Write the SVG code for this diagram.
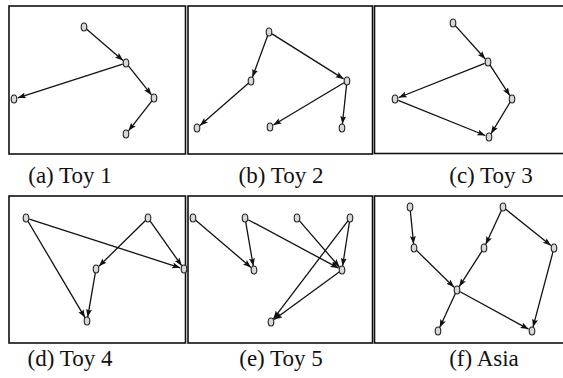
<svg xmlns="http://www.w3.org/2000/svg" width="563" height="378" viewBox="0 0 563 378">
<style>
.frame{fill:none;stroke:#111;stroke-width:1.6}
.node ellipse{fill:#d8d8d8;stroke:#222;stroke-width:1.1}
.edges line{stroke:#111;stroke-width:1.3;marker-end:url(#ah)}
.cap{font-family:"Liberation Serif","Times New Roman",serif;font-size:23px;fill:#111;text-anchor:middle}
</style>
<defs>
<marker id="ah" markerUnits="userSpaceOnUse" markerWidth="9" markerHeight="7" refX="8" refY="3" orient="auto">
<path d="M0,0 L8,3 L0,6 L1.5,3 Z" fill="#111"/>
</marker>
</defs>
<rect width="563" height="378" fill="#fff"/>
<g id="frames">
<rect class="frame" x="9" y="6" width="176.5" height="148"/>
<rect class="frame" x="188" y="6" width="184.5" height="148"/>
<rect class="frame" x="374.5" y="6" width="200" height="147.5"/>
<rect class="frame" x="9" y="196" width="176.5" height="147"/>
<rect class="frame" x="188" y="196" width="184.5" height="147"/>
<rect class="frame" x="374.5" y="196" width="200" height="147"/>
</g>
<g id="connectors" class="edges">
<line x1="86.7" y1="29.3" x2="123" y2="60.4"/>
<line x1="122.7" y1="64.1" x2="17.8" y2="97.8"/>
<line x1="128.2" y1="65.7" x2="151.5" y2="94.9"/>
<line x1="151.9" y1="100.8" x2="128.5" y2="130.8"/>
<line x1="267.8" y1="35.3" x2="252.4" y2="77.2"/>
<line x1="272" y1="33.9" x2="343.6" y2="78.9"/>
<line x1="248.4" y1="83.3" x2="200" y2="125.4"/>
<line x1="344" y1="82.8" x2="273.4" y2="125"/>
<line x1="346.6" y1="84.5" x2="342.4" y2="124"/>
<line x1="455.3" y1="25.6" x2="485.3" y2="59"/>
<line x1="484.7" y1="63.3" x2="398.7" y2="97.5"/>
<line x1="489.9" y1="64.9" x2="509.8" y2="95.6"/>
<line x1="398.2" y1="100.3" x2="485.3" y2="135.5"/>
<line x1="510.2" y1="102" x2="491.1" y2="133.6"/>
<line x1="29.3" y1="219.1" x2="180.2" y2="267.8"/>
<line x1="27.8" y1="221" x2="85" y2="317.6"/>
<line x1="145.5" y1="220.5" x2="98.9" y2="266.2"/>
<line x1="150" y1="220.9" x2="181.7" y2="265.7"/>
<line x1="95.4" y1="272.4" x2="87.7" y2="317.1"/>
<line x1="195.7" y1="220.3" x2="251" y2="267.4"/>
<line x1="245.6" y1="221.4" x2="253.3" y2="266.1"/>
<line x1="248.1" y1="219.7" x2="338.5" y2="268.1"/>
<line x1="299.3" y1="220.6" x2="339.4" y2="267"/>
<line x1="349.5" y1="221.5" x2="342.6" y2="266"/>
<line x1="347.9" y1="220.8" x2="273.4" y2="318.8"/>
<line x1="339.2" y1="272.1" x2="274.2" y2="319.6"/>
<line x1="410.3" y1="210.5" x2="413.6" y2="244"/>
<line x1="501.5" y1="210.2" x2="485.7" y2="244.4"/>
<line x1="505.7" y1="209.2" x2="550.9" y2="245.5"/>
<line x1="416.5" y1="250.4" x2="454.1" y2="287.2"/>
<line x1="482.1" y1="250.9" x2="459.2" y2="286.6"/>
<line x1="455.5" y1="293.2" x2="439.7" y2="327.4"/>
<line x1="460.1" y1="291.7" x2="528.5" y2="329.1"/>
<line x1="553.1" y1="251.4" x2="533" y2="327.1"/>
</g>
<g id="a1" class="node"><ellipse cx="84" cy="27" rx="2.8" ry="4"/></g>
<g id="a2" class="node"><ellipse cx="126" cy="63" rx="2.8" ry="4"/></g>
<g id="a3" class="node"><ellipse cx="14" cy="99" rx="2.8" ry="4"/></g>
<g id="a4" class="node"><ellipse cx="154" cy="98" rx="2.8" ry="4"/></g>
<g id="a5" class="node"><ellipse cx="126" cy="134" rx="2.8" ry="4"/></g>
<g id="b1" class="node"><ellipse cx="269" cy="32" rx="2.8" ry="4"/></g>
<g id="b2" class="node"><ellipse cx="251" cy="81" rx="2.8" ry="4"/></g>
<g id="b3" class="node"><ellipse cx="347" cy="81" rx="2.8" ry="4"/></g>
<g id="b4" class="node"><ellipse cx="197" cy="128" rx="2.8" ry="4"/></g>
<g id="b5" class="node"><ellipse cx="270" cy="127" rx="2.8" ry="4"/></g>
<g id="b6" class="node"><ellipse cx="342" cy="128" rx="2.8" ry="4"/></g>
<g id="c1" class="node"><ellipse cx="453" cy="23" rx="2.8" ry="4"/></g>
<g id="c2" class="node"><ellipse cx="488" cy="62" rx="2.8" ry="4"/></g>
<g id="c3" class="node"><ellipse cx="395" cy="99" rx="2.8" ry="4"/></g>
<g id="c4" class="node"><ellipse cx="512" cy="99" rx="2.8" ry="4"/></g>
<g id="c5" class="node"><ellipse cx="489" cy="137" rx="2.8" ry="4"/></g>
<g id="d1" class="node"><ellipse cx="26" cy="218" rx="2.8" ry="4"/></g>
<g id="d2" class="node"><ellipse cx="148" cy="218" rx="2.8" ry="4"/></g>
<g id="d3" class="node"><ellipse cx="96" cy="269" rx="2.8" ry="4"/></g>
<g id="d4" class="node"><ellipse cx="184" cy="269" rx="2.8" ry="4"/></g>
<g id="d5" class="node"><ellipse cx="87" cy="321" rx="2.8" ry="4"/></g>
<g id="e1" class="node"><ellipse cx="193" cy="218" rx="2.8" ry="4"/></g>
<g id="e2" class="node"><ellipse cx="245" cy="218" rx="2.8" ry="4"/></g>
<g id="e3" class="node"><ellipse cx="297" cy="218" rx="2.8" ry="4"/></g>
<g id="e4" class="node"><ellipse cx="350" cy="218" rx="2.8" ry="4"/></g>
<g id="e5" class="node"><ellipse cx="254" cy="270" rx="2.8" ry="4"/></g>
<g id="e6" class="node"><ellipse cx="342" cy="270" rx="2.8" ry="4"/></g>
<g id="e7" class="node"><ellipse cx="271" cy="322" rx="2.8" ry="4"/></g>
<g id="f1" class="node"><ellipse cx="410" cy="207" rx="2.8" ry="4"/></g>
<g id="f2" class="node"><ellipse cx="503" cy="207" rx="2.8" ry="4"/></g>
<g id="f3" class="node"><ellipse cx="414" cy="248" rx="2.8" ry="4"/></g>
<g id="f4" class="node"><ellipse cx="484" cy="248" rx="2.8" ry="4"/></g>
<g id="f5" class="node"><ellipse cx="554" cy="248" rx="2.8" ry="4"/></g>
<g id="f6" class="node"><ellipse cx="457" cy="290" rx="2.8" ry="4"/></g>
<g id="f7" class="node"><ellipse cx="438" cy="331" rx="2.8" ry="4"/></g>
<g id="f8" class="node"><ellipse cx="532" cy="331" rx="2.8" ry="4"/></g>
<g id="captions">
<text class="cap" x="70" y="183">(a) Toy 1</text>
<text class="cap" x="281" y="183">(b) Toy 2</text>
<text class="cap" x="491" y="183">(c) Toy 3</text>
<text class="cap" x="70" y="366">(d) Toy 4</text>
<text class="cap" x="281" y="366">(e) Toy 5</text>
<text class="cap" x="484" y="366">(f) Asia</text>
</g>
</svg>
